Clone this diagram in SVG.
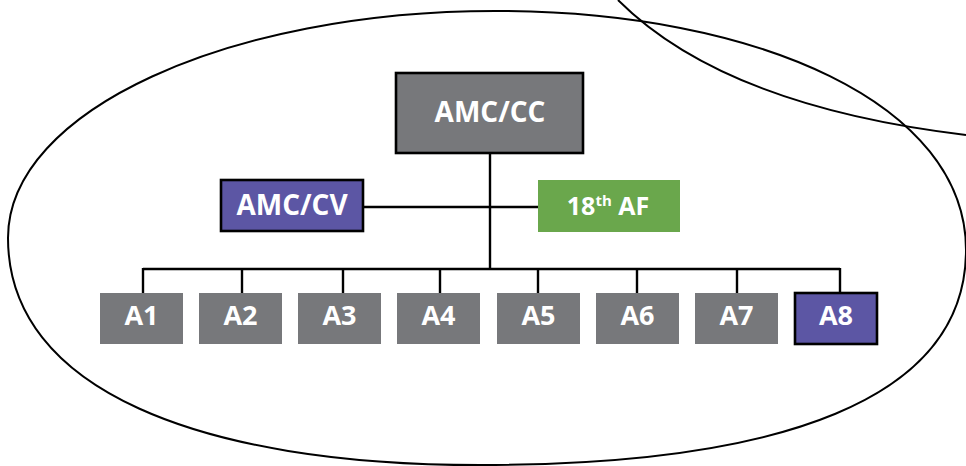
<svg xmlns="http://www.w3.org/2000/svg" width="966" height="466" viewBox="0 0 966 466">
  <style>
    .outline { fill: none; stroke: #000; stroke-width: 2; }
    .conn { fill: none; stroke: #000; stroke-width: 2.4; }
    .gray { fill: #77787b; }
    .purple { fill: #5c56a4; }
    .green { fill: #6aa74c; }
    .bordered { stroke: #000; stroke-width: 2.6; }
    .lbl { font-family: "Open Sans", "Liberation Sans", sans-serif; font-weight: 700; fill: #fff; text-anchor: middle; }
  </style>
  <rect width="966" height="466" fill="#fff"/>
  <g id="boundaries">
    <path class="outline" d="M 8,238 C 8,110 230,11 495,11 C 760,11 966,105 966,250 C 966,400 780,465 480,465 C 200,465 8,390 8,238 Z"/>
    <path class="outline" d="M 618,0 C 688.7,70.7 804.7,115.7 966,135"/>
  </g>
  <g id="connectors">
    <line class="conn" x1="490" y1="153" x2="490" y2="269"/>
    <line class="conn" x1="364" y1="207" x2="538" y2="207"/>
    <line class="conn" x1="143" y1="269" x2="840" y2="269"/>
    <line class="conn" x1="143" y1="268" x2="143" y2="293"/>
    <line class="conn" x1="242" y1="268" x2="242" y2="293"/>
    <line class="conn" x1="343" y1="268" x2="343" y2="293"/>
    <line class="conn" x1="440" y1="268" x2="440" y2="293"/>
    <line class="conn" x1="538" y1="268" x2="538" y2="293"/>
    <line class="conn" x1="637" y1="268" x2="637" y2="293"/>
    <line class="conn" x1="737" y1="268" x2="737" y2="293"/>
    <line class="conn" x1="840" y1="268" x2="840" y2="293"/>
  </g>
  <g id="amc-cc">
    <rect class="gray bordered" x="396" y="73" width="187" height="80"/>
    <text class="lbl" x="490" y="122" font-size="28">AMC/CC</text>
  </g>
  <g id="amc-cv">
    <rect class="purple bordered" x="221" y="180" width="142" height="51"/>
    <text class="lbl" x="292" y="215" font-size="28">AMC/CV</text>
  </g>
  <g id="af18">
    <rect class="green" x="538" y="180" width="142" height="52"/>
    <text class="lbl" x="608" y="215" font-size="25">18<tspan font-size="15" dy="-9">th</tspan><tspan dy="9"> AF</tspan></text>
  </g>
  <g id="a1">
    <rect class="gray" x="100" y="293" width="83" height="51"/>
    <text class="lbl" x="141.5" y="325" font-size="27">A1</text>
  </g>
  <g id="a2">
    <rect class="gray" x="199" y="293" width="83" height="51"/>
    <text class="lbl" x="240.5" y="325" font-size="27">A2</text>
  </g>
  <g id="a3">
    <rect class="gray" x="298" y="293" width="83" height="51"/>
    <text class="lbl" x="339.5" y="325" font-size="27">A3</text>
  </g>
  <g id="a4">
    <rect class="gray" x="397" y="293" width="83" height="51"/>
    <text class="lbl" x="438.5" y="325" font-size="27">A4</text>
  </g>
  <g id="a5">
    <rect class="gray" x="497" y="293" width="83" height="51"/>
    <text class="lbl" x="538.5" y="325" font-size="27">A5</text>
  </g>
  <g id="a6">
    <rect class="gray" x="596" y="293" width="83" height="51"/>
    <text class="lbl" x="637.5" y="325" font-size="27">A6</text>
  </g>
  <g id="a7">
    <rect class="gray" x="695" y="293" width="83" height="51"/>
    <text class="lbl" x="736.5" y="325" font-size="27">A7</text>
  </g>
  <g id="a8">
    <rect class="purple bordered" x="795" y="293" width="82" height="51"/>
    <text class="lbl" x="836" y="325" font-size="27">A8</text>
  </g>
</svg>
